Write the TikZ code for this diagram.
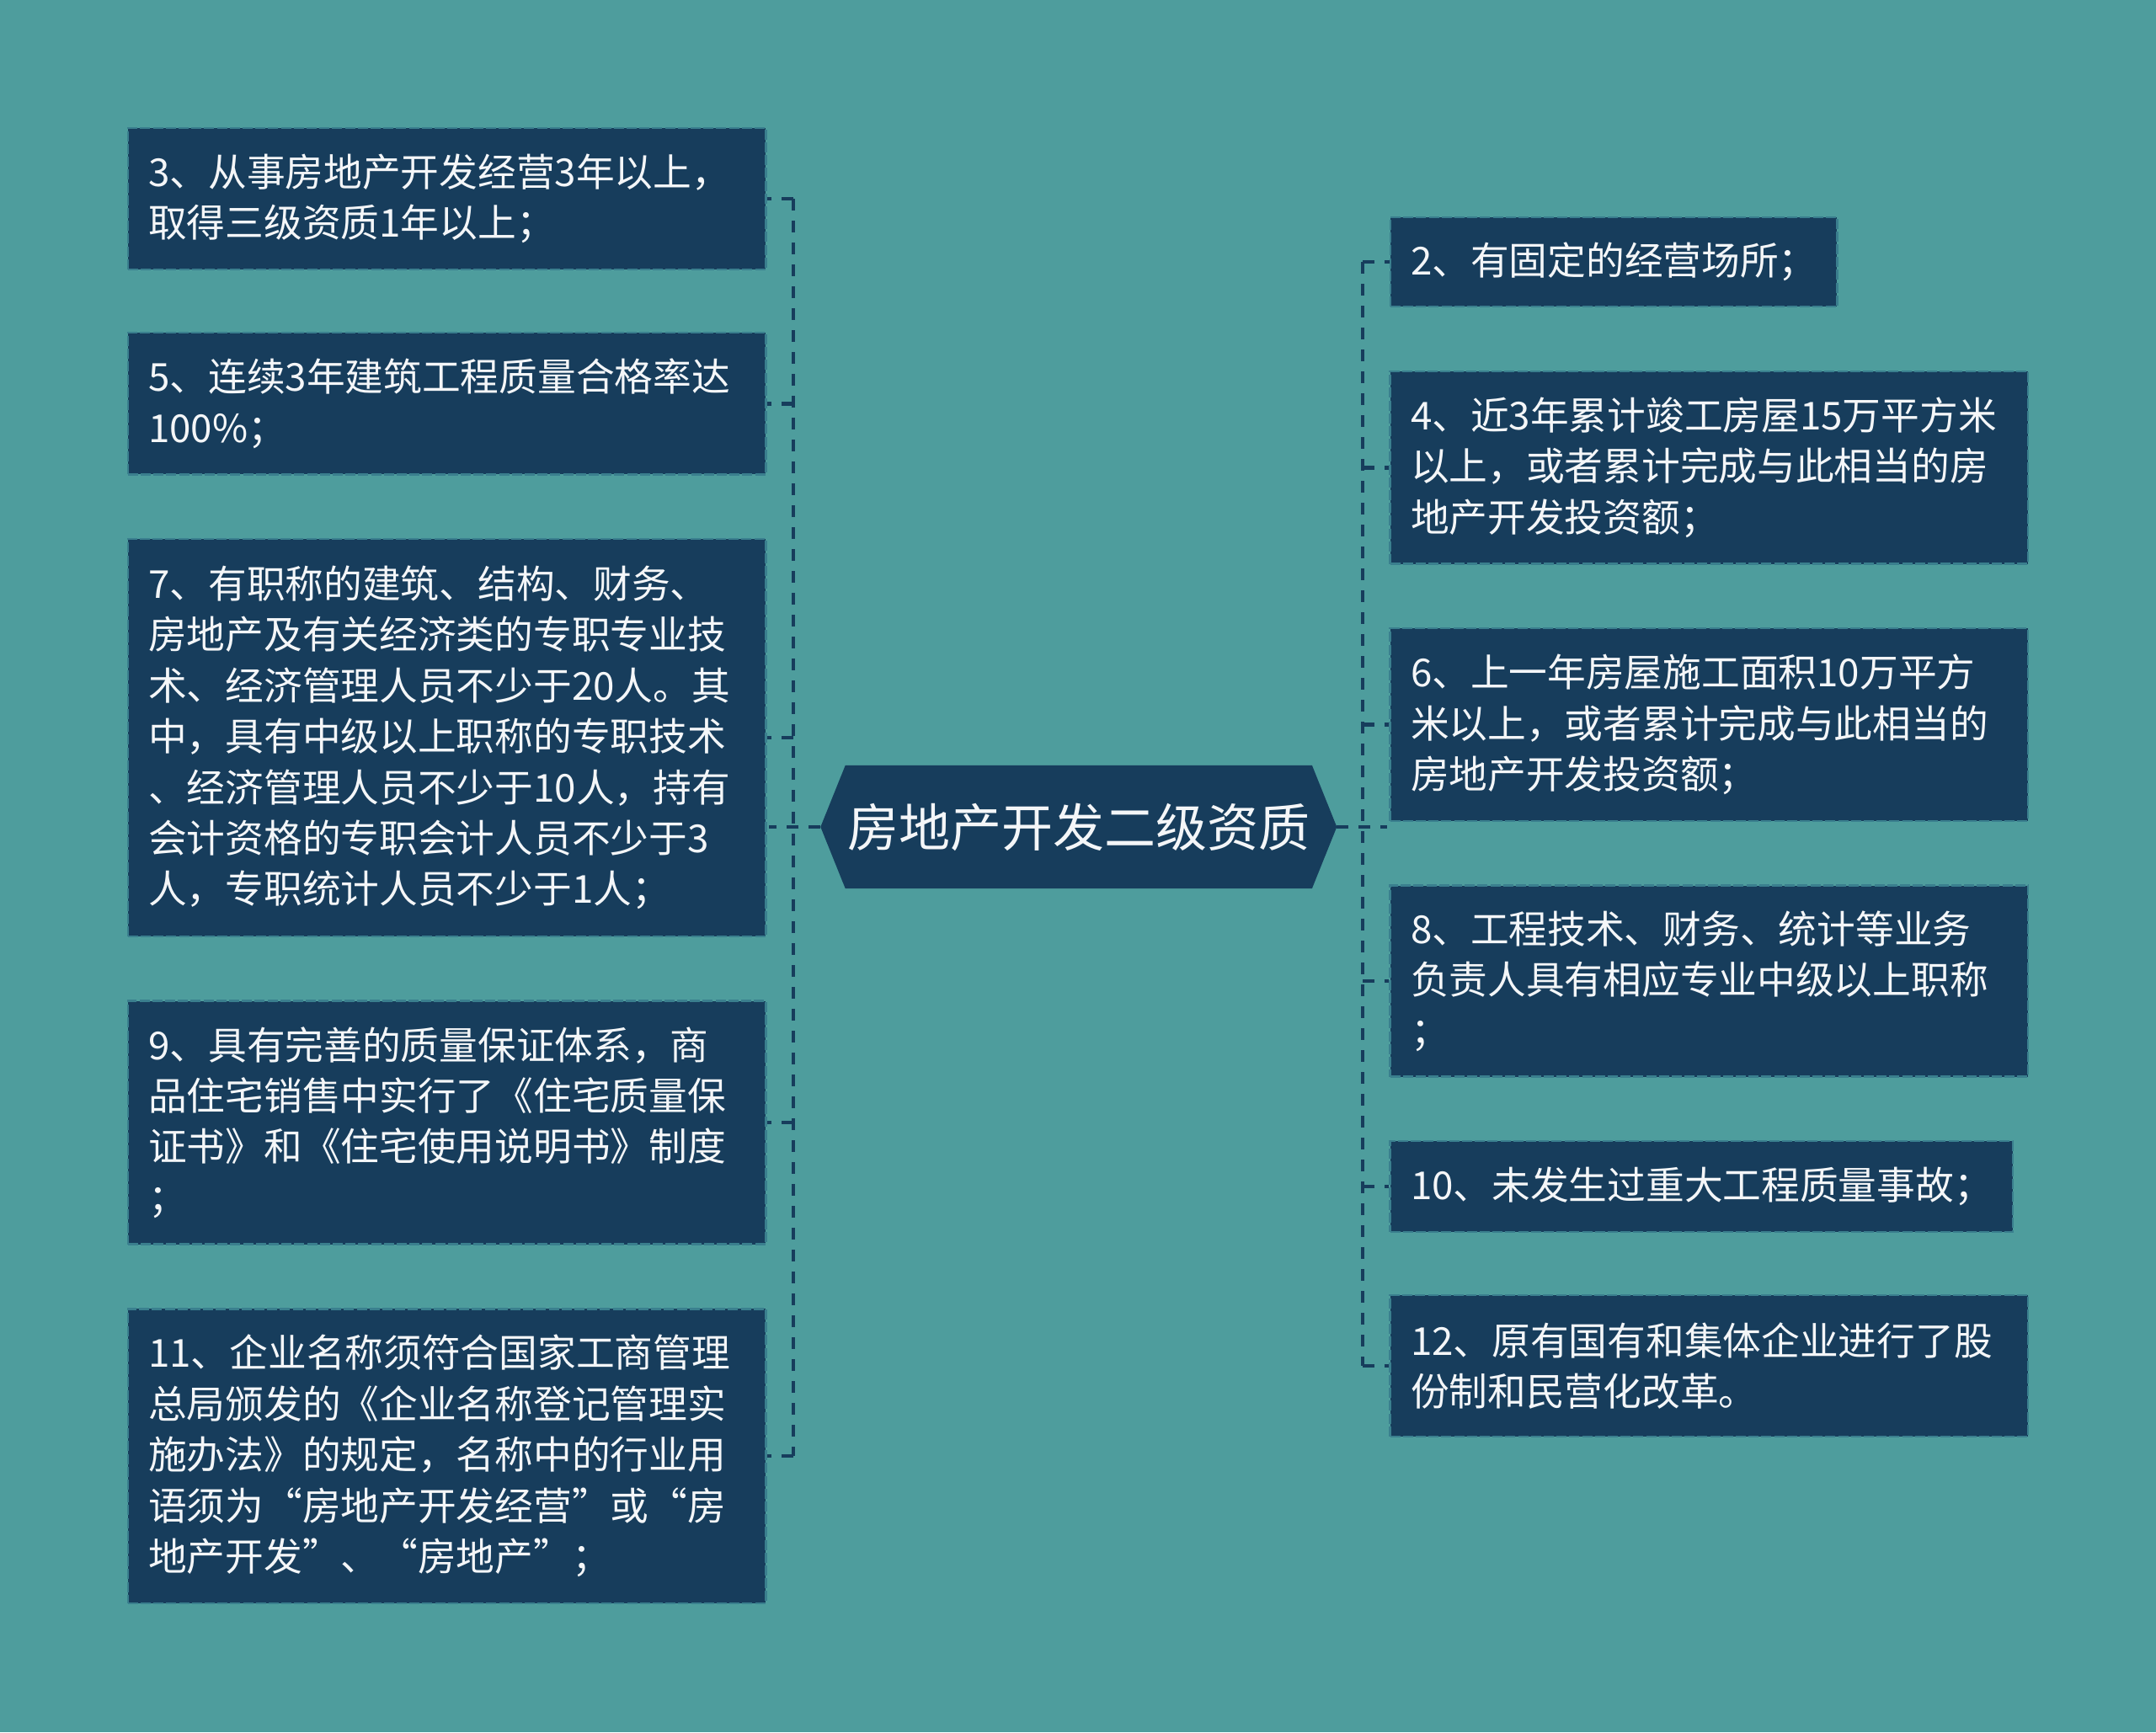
\documentclass[tikz,border=0pt]{standalone}
\usepackage{fontspec}
\setmainfont{Noto Sans CJK SC}
\usetikzlibrary{backgrounds}
\definecolor{bgc}{HTML}{4E9D9D}
\definecolor{boxc}{HTML}{173D5C}
\definecolor{framec}{HTML}{3A7F8E}
\definecolor{linec}{HTML}{173D5C}
\definecolor{txtc}{HTML}{F4F6F8}
\tikzset{
  itembox/.style={fill=boxc, draw=framec, line width=1.2pt, dash pattern=on 6pt off 1.6pt,
    text=txtc, align=left, inner xsep=12.2pt, inner ysep=0pt,
    font=\fontsize{22.86pt}{30.2pt}\selectfont},
  conn/.style={draw=linec, line width=2.3pt, dash pattern=on 7pt off 6pt},
  ctrtext/.style={text=txtc, inner sep=0pt, font=\fontsize{30.5pt}{36pt}\selectfont,
    minimum width=276.7pt, minimum height=72.7pt}
}
\begin{document}
\begin{tikzpicture}[x=1pt,y=-1pt]
\useasboundingbox (0,0) rectangle (1280,1028.5);
\begin{scope}[on background layer]
\fill[bgc] (0,0) rectangle (1280,1028.5);
\end{scope}

% central node
\node[ctrtext] (ctr) at (640.4,491) {房地产开发二级资质};
\begin{scope}[on background layer]
\fill[boxc] ([xshift=-14.7pt]ctr.west) -- (ctr.north west) -- (ctr.north east) -- ([xshift=14.7pt]ctr.east) -- (ctr.south east) -- (ctr.south west) -- cycle;
\end{scope}

% left boxes
\node[itembox, text width=354.4pt, minimum height=84.1pt] (b3) at (265.3,118.0)
 {3、从事房地产开发经营3年以上，\\取得三级资质1年以上；};
\node[itembox, text width=354.4pt, minimum height=84.1pt] (b5) at (265.3,239.6)
 {5、连续3年建筑工程质量合格率达\\100\%；};
\node[itembox, text width=354.4pt, minimum height=235.9pt] (b7) at (265.3,438.0)
 {7、有职称的建筑、结构、财务、\\房地产及有关经济类的专职专业技\\术、经济管理人员不少于20人。其\\中，具有中级以上职称的专职技术\\、经济管理人员不少于10人，持有\\会计资格的专职会计人员不少于3\\人，专职统计人员不少于1人；};
\node[itembox, text width=354.4pt, minimum height=144.5pt] (b9) at (265.3,666.5)
 {9、具有完善的质量保证体系，商\\品住宅销售中实行了《住宅质量保\\证书》和《住宅使用说明书》制度\\；};
\node[itembox, text width=354.4pt, minimum height=174.7pt] (b11) at (265.3,864.5)
 {11、企业名称须符合国家工商管理\\总局颁发的《企业名称登记管理实\\施办法》的规定，名称中的行业用\\语须为“房地产开发经营”或“房\\地产开发”、“房地产”；};

% right boxes
\node[itembox, text width=240.9pt, minimum height=53.1pt] (b2) at (958.0,155.5)
 {2、有固定的经营场所；};
\node[itembox, text width=354.4pt, minimum height=114.3pt] (b4) at (1014.7,277.6)
 {4、近3年累计竣工房屋15万平方米\\以上，或者累计完成与此相当的房\\地产开发投资额；};
\node[itembox, text width=354.4pt, minimum height=114.3pt] (b6) at (1014.7,430.2)
 {6、上一年房屋施工面积10万平方\\米以上，或者累计完成与此相当的\\房地产开发投资额；};
\node[itembox, text width=354.4pt, minimum height=113.5pt] (b8) at (1014.7,582.5)
 {8、工程技术、财务、统计等业务\\负责人具有相应专业中级以上职称\\；};
\node[itembox, text width=345.4pt, minimum height=53.9pt] (b10) at (1010.2,704.5)
 {10、未发生过重大工程质量事故；};
\node[itembox, text width=354.4pt, minimum height=84.1pt] (b12) at (1014.7,811.0)
 {12、原有国有和集体企业进行了股\\份制和民营化改革。};

% left trunk
\coordinate (lt) at (471,118.0);
\coordinate (lb) at (471,864.5);
\draw[conn] (lt) -- (lb);
\draw[conn] ([xshift=-14.7pt]ctr.west) -- ([xshift=-14.7pt]ctr.west -| lt);
\foreach \b in {b3,b5,b7,b9,b11}{
  \draw[conn] (\b.east -| lt) -- (\b.east);
}
% right trunk
\coordinate (rt) at (809,155.5);
\coordinate (rb) at (809,811.0);
\draw[conn] (rt) -- (rb);
\draw[conn] ([xshift=14.7pt]ctr.east) -- ([xshift=14.7pt]ctr.east -| rt);
\foreach \b in {b2,b4,b6,b8,b10,b12}{
  \draw[conn] (\b.west -| rt) -- (\b.west);
}
\end{tikzpicture}
\end{document}
